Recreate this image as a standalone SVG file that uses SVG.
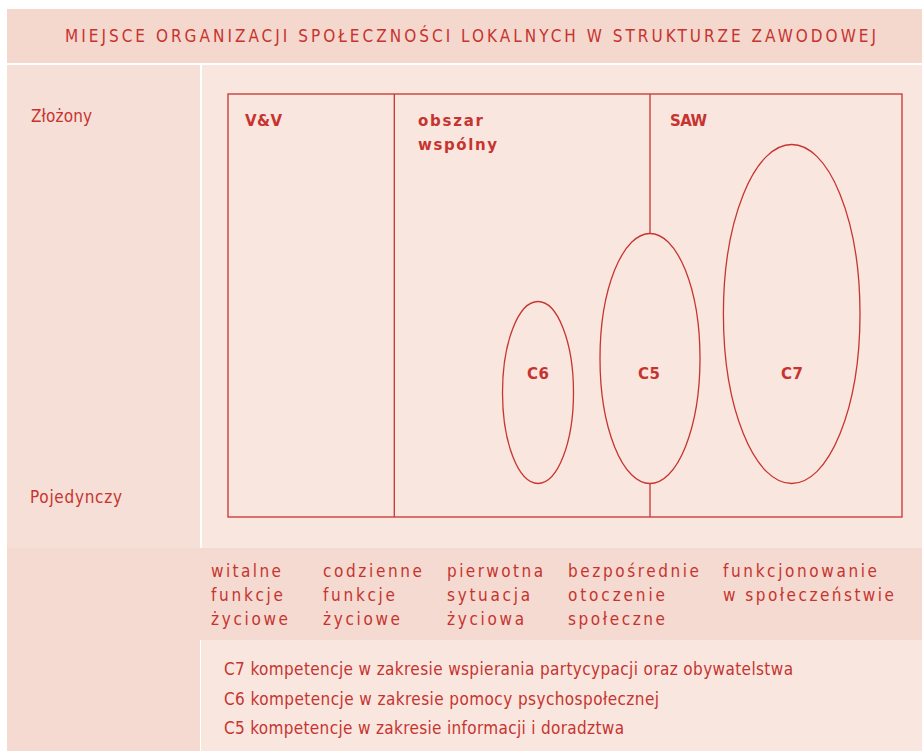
<svg xmlns="http://www.w3.org/2000/svg" width="922" height="751" viewBox="0 0 922 751">
  <style>
    .t { font-family: "Liberation Sans Narrow", "DejaVu Sans Condensed", "Liberation Sans", sans-serif; fill: #c7342f; font-size: 17px; }
    .b { font-family: "DejaVu Sans", "Liberation Sans", sans-serif; font-weight: bold; fill: #c7342f; font-size: 15px; }
    .ln { fill: none; stroke: #c8352f; stroke-width: 1.3; }
  </style>

  <!-- background panels -->
  <rect x="0" y="0" width="922" height="751" fill="#ffffff"/>
  <rect x="7" y="9" width="915" height="54" fill="#f4d7cd"/>
  <rect x="7" y="65" width="193" height="483" fill="#f5dfd7"/>
  <rect x="202" y="65" width="720" height="483" fill="#f8e6df"/>
  <rect x="7" y="548" width="915" height="92" fill="#f4dad0"/>
  <rect x="7" y="640" width="193" height="111" fill="#f4dad0"/>
  <rect x="201" y="640" width="721" height="111" fill="#f8e6df"/>

  <!-- title -->
  <text class="t" x="65" y="42" textLength="811">MIEJSCE ORGANIZACJI SPOŁECZNOŚCI LOKALNYCH W STRUKTURZE ZAWODOWEJ</text>

  <!-- vertical axis labels -->
  <text class="t" x="31" y="122" textLength="61">Złożony</text>
  <text class="t" x="30" y="503" textLength="92">Pojedynczy</text>

  <!-- connectors: frame and dividing lines -->
  <g id="connectors">
    <rect class="ln" x="228" y="94" width="674" height="423"/>
    <line class="ln" x1="394.3" y1="94" x2="394.3" y2="517"/>
    <line class="ln" x1="650" y1="94" x2="650" y2="233.5"/>
    <line class="ln" x1="650" y1="483.5" x2="650" y2="517"/>
  </g>

  <!-- areas -->
  <g id="vv">
    <text class="b" x="245" y="126" textLength="37">V&amp;V</text>
  </g>
  <g id="wspolny">
    <text class="b" x="418" y="126" textLength="65">obszar</text>
    <text class="b" x="418" y="150" textLength="79">wspólny</text>
  </g>
  <g id="saw">
    <text class="b" x="670" y="126" textLength="37">SAW</text>
  </g>

  <!-- competence ellipses -->
  <g id="c6">
    <ellipse class="ln" cx="538" cy="392.5" rx="35.5" ry="91" stroke-width="1.2"/>
    <text class="b" x="527" y="379" textLength="22">C6</text>
  </g>
  <g id="c5">
    <ellipse class="ln" cx="650" cy="358.5" rx="50" ry="125" stroke-width="1.2"/>
    <text class="b" x="638" y="379" textLength="22">C5</text>
  </g>
  <g id="c7">
    <ellipse class="ln" cx="791.7" cy="314" rx="68.3" ry="169.5" stroke-width="1.2"/>
    <text class="b" x="781" y="379" textLength="22">C7</text>
  </g>

  <!-- horizontal axis categories -->
  <g id="kat1">
    <text class="t" x="211" y="577" textLength="70">witalne</text>
    <text class="t" x="211" y="601" textLength="72">funkcje</text>
    <text class="t" x="211" y="625" textLength="77">życiowe</text>
  </g>
  <g id="kat2">
    <text class="t" x="323" y="577" textLength="99">codzienne</text>
    <text class="t" x="323" y="601" textLength="72">funkcje</text>
    <text class="t" x="323" y="625" textLength="77">życiowe</text>
  </g>
  <g id="kat3">
    <text class="t" x="447" y="577" textLength="96">pierwotna</text>
    <text class="t" x="447" y="601" textLength="83">sytuacja</text>
    <text class="t" x="447" y="625" textLength="77">życiowa</text>
  </g>
  <g id="kat4">
    <text class="t" x="568" y="577" textLength="131">bezpośrednie</text>
    <text class="t" x="568" y="601" textLength="97">otoczenie</text>
    <text class="t" x="568" y="625" textLength="97">społeczne</text>
  </g>
  <g id="kat5">
    <text class="t" x="723" y="577" textLength="154">funkcjonowanie</text>
    <text class="t" x="723" y="601" textLength="171">w społeczeństwie</text>
  </g>

  <!-- legend -->
  <g id="legenda">
    <text class="t" x="224" y="675" textLength="569">C7 kompetencje w zakresie wspierania partycypacji oraz obywatelstwa</text>
    <text class="t" x="224" y="705" textLength="435">C6 kompetencje w zakresie pomocy psychospołecznej</text>
    <text class="t" x="224" y="734" textLength="400">C5 kompetencje w zakresie informacji i doradztwa</text>
  </g>
</svg>
